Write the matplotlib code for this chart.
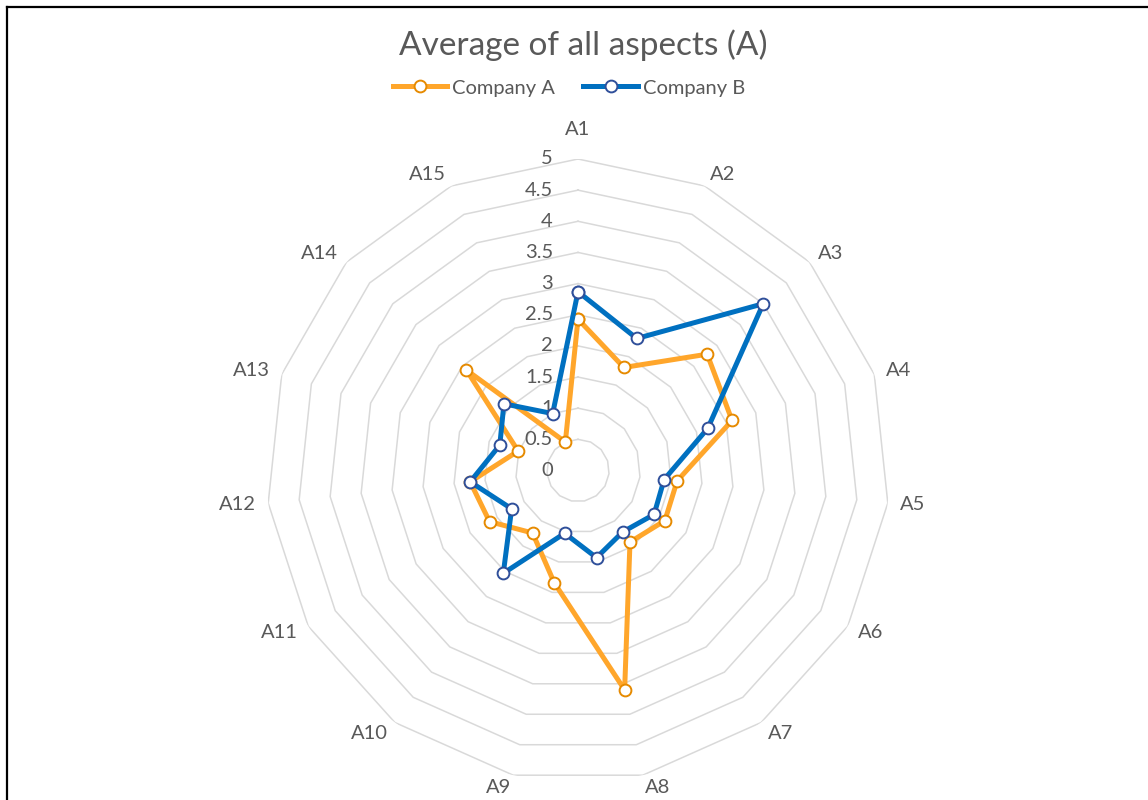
import numpy as np
import matplotlib
matplotlib.use("Agg")
import matplotlib.pyplot as plt
from matplotlib.lines import Line2D
from matplotlib.transforms import offset_copy

plt.rcParams['font.family'] = ['Lato', 'DejaVu Sans']

# Survey averages per aspect
aspects = [f"A{i}" for i in range(1, 16)]
company_a = [2.43, 1.81, 2.79, 2.60, 1.60, 1.61, 1.42, 3.60, 1.84, 1.24, 1.64, 1.74, 1.01, 2.41, 0.50]
company_b = [2.87, 2.32, 4.00, 2.19, 1.39, 1.41, 1.22, 1.43, 1.03, 2.04, 1.23, 1.74, 1.32, 1.60, 1.00]
ring_levels = [0.5, 1, 1.5, 2, 2.5, 3, 3.5, 4, 4.5, 5]
ring_labels = ["0", "0.5", "1", "1.5", "2", "2.5", "3", "3.5", "4", "4.5", "5"]

TEXT = "#595959"
GRID = "#D9D9D9"
ORANGE = "#FFA62B"
ORANGE_EDGE = "#E68A00"
BLUE = "#0070C0"
BLUE_EDGE = "#2F4F9A"
FS = 14.5

W, H = 1148, 800
fig = plt.figure(figsize=(W / 100, H / 100), dpi=100)

cx, cy, rad = 578, 470.5, 311.5
ax = fig.add_axes([(cx - rad) / W, (H - cy - rad) / H, 2 * rad / W, 2 * rad / H],
                  projection='polar')
ax.set_theta_zero_location('N')
ax.set_theta_direction(-1)
ax.set_ylim(0, 5)
ax.grid(False)
ax.spines['polar'].set_visible(False)
ax.set_xticks([])
ax.set_yticks([])
ax.patch.set_visible(False)

n = len(aspects)
theta = np.linspace(0, 2 * np.pi, n, endpoint=False)
theta_closed = np.append(theta, theta[0])

# polygon rings
for lvl in ring_levels:
    ax.plot(theta_closed, [lvl] * (n + 1), color=GRID, lw=1.1, zorder=1)

# value labels to the left of the top spoke
lbl_tf = offset_copy(ax.transData, fig=fig, x=-25, y=0, units='dots')
for lvl, txt in zip([0] + ring_levels, ring_labels):
    ax.text(0, lvl, txt, transform=lbl_tf, ha='right', va='center',
            fontsize=FS, color=TEXT)

# aspect labels just outside each outer vertex
for t, name in zip(theta, aspects):
    s, c = np.sin(t), np.cos(t)
    if abs(s) < 0.05 and c > 0:
        ha, va, dx, dy = 'center', 'bottom', 0, 21
    else:
        ha = 'left' if s > 0 else 'right'
        va, dx, dy = 'center', 12 * s, 13 * c
    tf = offset_copy(ax.transData, fig=fig, x=dx, y=dy, units='dots')
    ax.text(t, 5, name, transform=tf, ha=ha, va=va, fontsize=FS, color=TEXT)

def closed(vals):
    return np.append(vals, vals[0])

ax.plot(theta_closed, closed(company_a), color=ORANGE, lw=3.6, marker='o', ms=8.5,
        mfc='white', mec=ORANGE_EDGE, mew=1.4, zorder=3, label='Company A')
ax.plot(theta_closed, closed(company_b), color=BLUE, lw=3.6, marker='o', ms=8.5,
        mfc='white', mec=BLUE_EDGE, mew=1.4, zorder=4, label='Company B')

fig.text(583 / W, 1 - 45 / H, "Average of all aspects (A)", ha='center', va='center',
         fontsize=24, color=TEXT)

handles = [
    Line2D([], [], color=ORANGE, lw=3.6, marker='o', ms=8.5, mfc='white',
           mec=ORANGE_EDGE, mew=1.4),
    Line2D([], [], color=BLUE, lw=3.6, marker='o', ms=8.5, mfc='white',
           mec=BLUE_EDGE, mew=1.4),
]
fig.legend(handles, ["Company A", "Company B"], loc='center',
           bbox_to_anchor=(569 / W, 1 - 88 / H), ncol=2, frameon=False,
           fontsize=FS, labelcolor=TEXT, handlelength=2.7, handletextpad=0.25,
           columnspacing=1.4)

# chart frame edges
fig.add_artist(Line2D([7 / W, 7 / W], [0, 1 - 7 / H], color='black', lw=1.6))
fig.add_artist(Line2D([7 / W, 1], [1 - 7 / H, 1 - 7 / H], color='black', lw=1.6))

fig.savefig("out.png", dpi=100)
